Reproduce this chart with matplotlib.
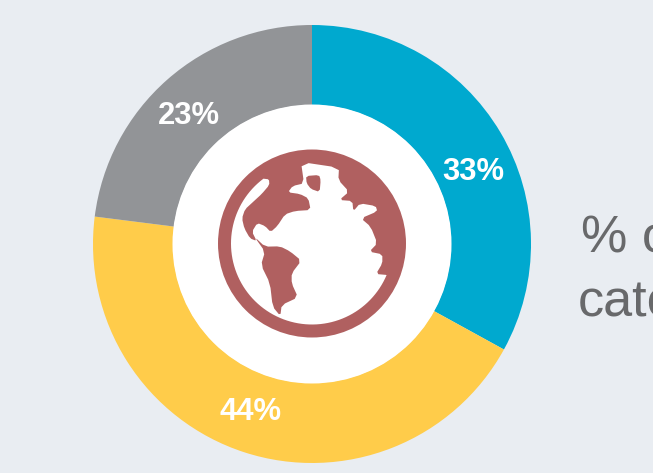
import numpy as np
import matplotlib
matplotlib.use("Agg")
import matplotlib.pyplot as plt
from matplotlib.patches import Circle, Polygon

plt.rcParams['font.family'] = ['Liberation Sans', 'DejaVu Sans']

# data
shares = [33, 44, 23]
colors = ['#00A9CF', '#FFCC4A', '#929497']
label_pos = [(473.5, 172), (251, 412), (189, 116)]  # pixel centres of the labels
side_text = ['% of', 'category']

W, H = 653, 473
BG = '#E9EDF2'
ICON = '#B06060'

# globe outline points, measured in a 3x crop starting at (200, 130)
land_pts = [(190, 146), (207, 148), (208, 165), (185, 192), (160, 215), (135, 238), (126, 265),
            (133, 295), (150, 325), (170, 333), (156, 305), (172, 279), (195, 288), (212, 306),
            (232, 288), (255, 253), (285, 243), (332, 240), (325, 205), (300, 192), (264, 187),
            (278, 168), (312, 160), (303, 96), (417, 113), (415, 150), (447, 185), (418, 210),
            (457, 213), (460, 244), (480, 220), (527, 228), (532, 244), (483, 265), (512, 290),
            (532, 340), (508, 365), (547, 373), (547, 400), (528, 432), (562, 435)]
samerica_pts = [(163, 320), (195, 350), (240, 349), (270, 364), (304, 392), (275, 430), (275, 460),
                (294, 502), (245, 525), (241, 558), (218, 530), (210, 460), (183, 405), (195, 365)]
lake_pts = [(318, 138), (357, 135), (362, 150), (359, 186), (333, 177), (320, 160)]


def crop_to_px(pts):
    return [(200 + x / 3, 130 + y / 3) for x, y in pts]


def flip(pts):
    return [(x, H - y) for x, y in pts]


def smooth(pts, rounds=1, closed=True):
    # corner cutting so the coastlines are not too sharp
    pts = np.array(pts, dtype=float)
    for _ in range(rounds):
        nxt = np.roll(pts, -1, axis=0)
        new = np.column_stack([0.8 * pts + 0.2 * nxt, 0.2 * pts + 0.8 * nxt]).reshape(-1, 2)
        if not closed:
            new = np.vstack([pts[0], new[:-2], pts[-1]])
        pts = new
    return pts


fig = plt.figure(figsize=(W / 100, H / 100), dpi=100, facecolor=BG)
ax = fig.add_axes([0, 0, 1, 1])

ax.pie(shares, colors=colors, startangle=90, counterclock=False, center=(312, H - 244), radius=219,
       wedgeprops={'width': 80, 'linewidth': 0})
ax.add_patch(Circle((312, H - 244), 139.5, color='white', lw=0))
ax.set_xlim(0, W)
ax.set_ylim(0, H)
ax.set_aspect('equal')
ax.axis('off')

for val, (x, y) in zip(shares, label_pos):
    ax.text(x, H - y, f'{val}%', color='white', fontsize=22.3, fontweight='bold', ha='center', va='center')

# globe icon
gx, gy, r_in = 312, 243.5, 81
ax.add_patch(Circle((gx, H - gy), 94, color=ICON, lw=0))

# white land + crescent, closed along the inside of the ring
land = smooth(crop_to_px(land_pts), closed=False)
a0 = np.arctan2(land[-1][1] - gy, land[-1][0] - gx)
a1 = np.arctan2(land[0][1] - gy, land[0][0] - gx)
if a1 < a0:
    a1 += 2 * np.pi
arc_t = np.linspace(a0, a1, 80)
arc = np.column_stack([gx + r_in * np.cos(arc_t), gy + r_in * np.sin(arc_t)])
ax.add_patch(Polygon(flip(np.vstack([land, arc])), closed=True, color='white', lw=0))

ax.add_patch(Polygon(flip(smooth(crop_to_px(samerica_pts))), closed=True, color=ICON, lw=0))
# lake in the top continent
ax.add_patch(Polygon(flip(smooth(crop_to_px(lake_pts))), closed=True, color=ICON, lw=0))

ax.text(581, H - 252, side_text[0], color='#68696B', fontsize=37.5, ha='left', va='baseline', clip_on=True)
ax.text(578, H - 316, side_text[1], color='#68696B', fontsize=37.5, ha='left', va='baseline', clip_on=True)

fig.savefig('out.png', dpi=100, facecolor=BG)
